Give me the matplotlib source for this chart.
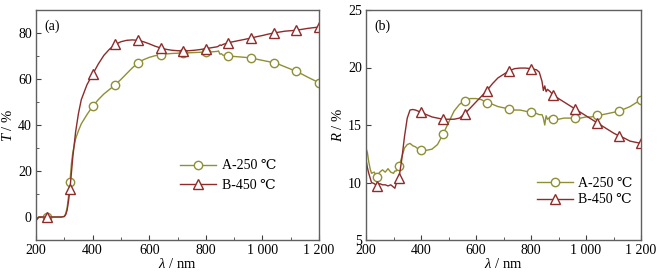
import matplotlib
matplotlib.use("Agg")
import matplotlib.pyplot as plt
from matplotlib.ticker import MultipleLocator, FixedLocator, NullLocator

plt.rcParams['font.family'] = ['Liberation Serif', 'DejaVu Serif']
plt.rcParams['mathtext.fontset'] = 'custom'
plt.rcParams['mathtext.it'] = 'Liberation Serif:italic'
plt.rcParams['mathtext.rm'] = 'Liberation Serif'

# ---------------- data ----------------
wl_a = [200, 210, 220, 240, 260, 280, 290, 300, 305, 310, 315, 320, 325, 330, 340, 350, 360, 380,
        400, 420, 440, 460, 480, 500, 520, 540, 560, 580, 600, 620, 640, 660, 680, 700, 720, 740,
        760, 780, 800, 820, 840, 845, 850, 855, 860, 880, 900, 920, 940, 960, 980, 1000, 1020,
        1040, 1060, 1080, 1100, 1120, 1140, 1160, 1180, 1200]
T_A = [-1.5, 0, 0, 0, 0, 0, 0, 0.3, 1.5, 4, 9, 15.2, 23, 28, 34, 37.5, 40.5, 44.5,
       48.1, 51, 53.5, 55.5, 57.5, 59.8, 62.3, 64.8, 67, 68.4, 69.4, 70.1, 70.6, 70.9, 71.1, 71.2, 71.3, 71.4,
       71.5, 71.6, 71.7, 71.8, 72.0, 72.2, 70.8, 71.0, 70.4, 70.0, 69.8, 69.6, 69.4, 69.1, 68.6, 68.1, 67.6,
       67.1, 66.3, 65.3, 64.3, 63.3, 62.1, 60.8, 59.6, 58.4]
T_B = [-1.5, 0, 0, 0, 0, 0, 0, 0.2, 1, 3, 7, 12.3, 19, 26, 37, 45, 51, 57.5,
       62, 66.5, 70.3, 73, 75, 76.2, 76.8, 77, 76.8, 76.2, 75.3, 74.3, 73.5, 72.9, 72.5, 72.3, 72.2, 72.3,
       72.5, 72.8, 73.2, 73.6, 74.0, 74.3, 74.8, 74.6, 75.0, 75.8, 76.3, 76.8, 77.3, 77.8, 78.4, 78.9, 79.5,
       80.0, 80.4, 80.8, 81.0, 81.2, 81.6, 82.0, 82.3, 82.6]

wl_b = [200, 205, 210, 215, 220, 230, 240, 250, 260, 270, 280, 290, 300, 305, 310, 315, 320, 330,
        340, 350, 360, 370, 380, 390, 400, 420, 440, 460, 480, 500, 520, 540, 560, 580, 600, 620,
        640, 660, 680, 700, 720, 740, 760, 780, 800, 820, 830, 840, 845, 850, 855, 860, 870, 880,
        900, 920, 940, 960, 980, 1000, 1020, 1040, 1060, 1080, 1100, 1120, 1140, 1160, 1180, 1200]
R_A = [13.0, 12.6, 11.8, 11.2, 10.8, 10.9, 10.5, 10.9, 11.1, 10.9, 11.2, 10.9, 10.8, 11.0, 11.0, 11.2, 11.4, 12.2,
       13.0, 13.3, 13.4, 13.2, 13.1, 12.9, 12.8, 12.8, 12.9, 13.3, 14.2, 15.2, 16.2, 16.8, 17.1, 17.3, 17.3, 17.2,
       16.9, 16.8, 16.6, 16.5, 16.4, 16.3, 16.3, 16.2, 16.1, 16.0, 15.9, 15.9, 15.6, 15.0, 15.8, 15.5, 15.7, 15.55,
       15.5, 15.6, 15.6, 15.6, 15.6, 15.7, 15.7, 15.85, 15.9, 16.0, 16.1, 16.2, 16.4, 16.6, 16.9, 17.2]
R_B = [12.0, 11.3, 10.8, 10.4, 10.0, 9.9, 9.7, 9.9, 9.8, 9.8, 9.7, 9.8, 9.6, 9.5, 9.9, 10.1, 10.4, 12.0,
       14.0, 15.6, 16.3, 16.35, 16.3, 16.2, 16.1, 15.9, 15.7, 15.6, 15.5, 15.5, 15.5, 15.6, 16.0, 16.5, 17.0, 17.5,
       18.0, 18.6, 19.1, 19.4, 19.7, 19.9, 19.95, 19.95, 19.9, 19.8, 19.6, 18.8, 18.0, 18.4, 17.9, 18.1, 17.9, 17.6,
       17.3, 17.0, 16.7, 16.4, 16.1, 15.8, 15.5, 15.2, 14.9, 14.6, 14.3, 14.05, 13.85, 13.6, 13.5, 13.4]

marker_wl = [240, 320, 400, 480, 560, 640, 720, 800, 880, 960, 1040, 1120, 1200]
labels = ['A-250 \u2103', 'B-450 \u2103']
xticks = [200, 400, 600, 800, 1000, 1200]
xticklabels = ['200', '400', '600', '800', '1 000', '1 200']

col_A = '#8f8f35'
col_B = '#8e2b2b'

W, H = 661, 276
fig = plt.figure(figsize=(W / 100, H / 100), dpi=100)
axa = fig.add_axes([36 / W, 36 / H, 283 / W, 230 / H])
axb = fig.add_axes([366 / W, 36 / H, 275 / W, 230 / H])


def idx(wl):
    return [i for i, x in enumerate(wl) if x in marker_wl]


def style(ax):
    for s in ax.spines.values():
        s.set_color('#606060')
        s.set_linewidth(1.0)
    ax.tick_params(which='both', direction='in', top=False, right=False,
                   labelsize=10, color='#404040', pad=3)
    ax.tick_params(which='major', length=3.5)
    ax.tick_params(which='minor', length=2)
    ax.set_xlim(200, 1200)
    ax.xaxis.set_major_locator(FixedLocator(xticks))
    ax.set_xticklabels(xticklabels)
    ax.xaxis.set_minor_locator(MultipleLocator(100))
    ax.set_xlabel(r'$\mathit{\lambda}$ / nm', fontsize=10.5, labelpad=0)


for ax, wl, ya, yb in [(axa, wl_a, T_A, T_B), (axb, wl_b, R_A, R_B)]:
    ax.plot(wl, ya, color=col_A, lw=1.0, marker='o', ms=6, mfc='white', mec=col_A, mew=1.0,
            markevery=idx(wl), label=labels[0])
    ax.plot(wl, yb, color=col_B, lw=1.0, marker='^', ms=7, mfc='white', mec=col_B, mew=1.0,
            markevery=idx(wl), label=labels[1])
    style(ax)

axa.set_ylim(-10, 90)
axa.yaxis.set_major_locator(MultipleLocator(20))
axa.yaxis.set_minor_locator(MultipleLocator(10))
axa.set_ylabel(r'$\mathit{T}$ / %', fontsize=10.5, labelpad=2)
axa.text(0.03, 0.93, '(a)', transform=axa.transAxes, fontsize=10, va='center')

axb.set_ylim(5, 25)
axb.yaxis.set_major_locator(MultipleLocator(5))
axb.yaxis.set_minor_locator(NullLocator())
axb.set_ylabel(r'$\mathit{R}$ / %', fontsize=10.5, labelpad=2)
axb.text(0.03, 0.93, '(b)', transform=axb.transAxes, fontsize=10, va='center')

axa.legend(loc='center left', bbox_to_anchor=(0.49, 0.28), frameon=False, fontsize=10,
           handlelength=2.6, handletextpad=0.4, labelspacing=0.45, borderaxespad=0)
axb.legend(loc='center left', bbox_to_anchor=(0.6, 0.21), frameon=False, fontsize=10,
           handlelength=2.6, handletextpad=0.4, labelspacing=0.25, borderaxespad=0)

fig.savefig('out.png', dpi=100)
